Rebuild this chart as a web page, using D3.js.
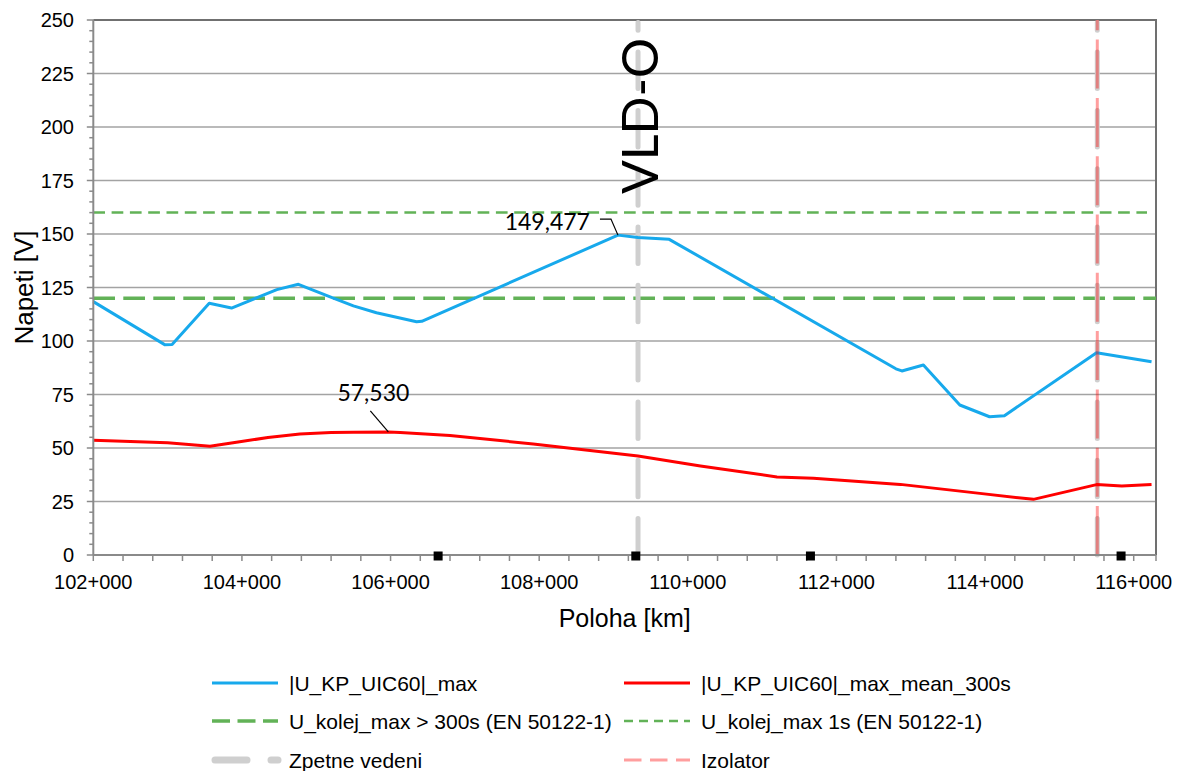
<!DOCTYPE html>
<html>
<head>
<meta charset="utf-8">
<script src="https://cdn.jsdelivr.net/npm/d3@7"></script>
<style>
  html, body { margin: 0; padding: 0; background: #fff; }
  svg { display: block; }
</style>
</head>
<body>
<svg id="chart" width="1178" height="771"></svg>
<script>
// Track position [km] and rail voltage [V]
const blueKm = [102.00, 102.96, 103.06, 103.56, 103.86, 104.47, 104.76, 105.23, 105.50, 105.81, 106.35, 106.42, 109.06, 109.33, 109.75, 112.80, 112.88, 113.17, 113.66, 114.06, 114.26, 115.50, 116.24];
const blueV  = [118.4, 98.3, 98.4, 117.6, 115.4, 124.0, 126.5, 120.0, 116.4, 113.2, 109.0, 109.2, 149.477, 148.4, 147.5, 87.0, 86.0, 88.8, 70.1, 64.6, 65.1, 94.5, 90.3];

const redKm = [102.00, 103.00, 103.57, 103.97, 104.35, 104.78, 105.20, 105.50, 105.97, 106.13, 106.80, 107.92, 109.33, 110.17, 111.20, 111.69, 112.86, 113.93, 114.65, 115.50, 115.84, 116.24];
const redV  = [53.6, 52.4, 50.8, 52.9, 54.9, 56.5, 57.2, 57.35, 57.53, 57.2, 55.8, 51.9, 46.3, 41.6, 36.5, 35.9, 33.0, 28.8, 26.0, 32.9, 32.3, 33.0];

// Limits according to EN 50122-1
const limitLong = 120;   // > 300 s
const limitShort = 160;  // 1 s

// Return conductor connections and insulated joint
const returnKm = [109.33, 115.51];
const isolatorKm = [115.51];
const markerKm = [106.64, 109.30, 111.65, 115.83];

// Annotated maxima
const peakBlue = { km: 109.06, v: 149.477, text: "149,477" };
const peakRed  = { km: 105.97, v: 57.53, text: "57,530" };

const xTicks = [102, 104, 106, 108, 110, 112, 114, 116];
const yTicks = [0, 25, 50, 75, 100, 125, 150, 175, 200, 225, 250];

const legendItems = [
  { name: "|U_KP_UIC60|_max", kind: "blue" },
  { name: "|U_KP_UIC60|_max_mean_300s", kind: "red" },
  { name: "U_kolej_max > 300s (EN 50122-1)", kind: "greenLong" },
  { name: "U_kolej_max 1s (EN 50122-1)", kind: "greenShort" },
  { name: "Zpetne vedeni", kind: "return" },
  { name: "Izolator", kind: "isolator" }
];

const C = {
  blue: "#17a9ec",
  red: "#ff0000",
  green: "#62b257",
  grid: "#a3a3a3",
  axis: "#8a8a8a",
  border: "#707070",
  ret: "#cfcfcf",
  iso: "rgba(255,0,0,0.38)"
};

const svg = d3.select("#chart");
const x = d3.scaleLinear().domain([102, 116.3]).range([93.3, 1156]);
const y = d3.scaleLinear().domain([0, 250]).range([555, 20]);
const [x0, x1] = x.range();
const [yb, yt] = y.range();

// Horizontal grid
svg.append("g").selectAll("line").data(yTicks.filter(d => d > 0 && d < 250)).join("line")
  .attr("x1", x0).attr("x2", x1).attr("y1", d => y(d)).attr("y2", d => y(d))
  .attr("stroke", C.grid).attr("stroke-width", 1.5);

// Border top and right
svg.append("path")
  .attr("d", `M${x0},${yt}H${x1}V${yb}`)
  .attr("fill", "none").attr("stroke", C.border).attr("stroke-width", 2);

// Limit lines
svg.append("line").attr("x1", x0).attr("x2", x1).attr("y1", y(limitLong)).attr("y2", y(limitLong))
  .attr("stroke", C.green).attr("stroke-width", 3.5).attr("stroke-dasharray", "21.7 8.3");
svg.append("line").attr("x1", x0).attr("x2", x1 - 9).attr("y1", y(limitShort)).attr("y2", y(limitShort))
  .attr("stroke", C.green).attr("stroke-width", 2.5).attr("stroke-dasharray", "11.7 6.6");

// Return conductor lines, drawn from the axis upward
svg.append("g").selectAll("line").data(returnKm).join("line")
  .attr("x1", d => x(d)).attr("x2", d => x(d)).attr("y1", y(0)).attr("y2", y(250) + 2.5)
  .attr("stroke", C.ret).attr("stroke-width", 5).attr("stroke-linecap", "round")
  .attr("stroke-dasharray", "36.5 21.8");

// Series
const line = d3.line().x(d => x(d[0])).y(d => y(d[1]));
svg.append("path").datum(blueKm.map((k, i) => [k, blueV[i]]))
  .attr("d", line).attr("fill", "none").attr("stroke", C.blue).attr("stroke-width", 3)
  .attr("stroke-linejoin", "round");
svg.append("path").datum(redKm.map((k, i) => [k, redV[i]]))
  .attr("d", line).attr("fill", "none").attr("stroke", C.red).attr("stroke-width", 3)
  .attr("stroke-linejoin", "round");

// Insulated joint
svg.append("g").selectAll("line").data(isolatorKm).join("line")
  .attr("x1", d => x(d)).attr("x2", d => x(d)).attr("y1", y(0)).attr("y2", y(250))
  .attr("stroke", C.iso).attr("stroke-width", 3)
  .attr("stroke-dasharray", "49 9.3");

// Axes
const xAxis = svg.append("g").attr("transform", `translate(0,${yb})`);
xAxis.append("line").attr("x1", x0).attr("x2", x1).attr("stroke", C.axis).attr("stroke-width", 2);
const xMinor = d3.range(0, 36).map(i => 102 + i * 0.4);
xAxis.selectAll("line.t").data(xMinor).join("line").attr("class", "t")
  .attr("x1", d => x(d)).attr("x2", d => x(d)).attr("y1", 0).attr("y2", 6)
  .attr("stroke", C.axis).attr("stroke-width", 1.5);
xAxis.append("line").attr("x1", x1).attr("x2", x1).attr("y1", 0).attr("y2", 6)
  .attr("stroke", C.axis).attr("stroke-width", 1.5);
xAxis.selectAll("text").data(xTicks).join("text")
  .attr("x", d => x(d)).attr("y", 34)
  .attr("text-anchor", "middle")
  .attr("font-family", "Liberation Sans, Arial, sans-serif").attr("font-size", 20)
  .text(d => d + "+000");

const yAxis = svg.append("g");
yAxis.append("line").attr("x1", x0).attr("x2", x0).attr("y1", yt).attr("y2", yb)
  .attr("stroke", C.axis).attr("stroke-width", 2);
const yMinor = d3.range(0, 51).map(i => i * 5);
yAxis.selectAll("line.t").data(yMinor).join("line").attr("class", "t")
  .attr("x1", d => x0 - (d % 25 === 0 ? 6.5 : 4)).attr("x2", x0)
  .attr("y1", d => y(d)).attr("y2", d => y(d))
  .attr("stroke", C.axis).attr("stroke-width", 1.5);
yAxis.selectAll("text").data(yTicks).join("text")
  .attr("x", 74).attr("y", d => y(d) + 7)
  .attr("text-anchor", "end")
  .attr("font-family", "Liberation Sans, Arial, sans-serif").attr("font-size", 20)
  .text(d => d);

// Axis titles
svg.append("text").attr("x", (x0 + x1) / 2).attr("y", 627)
  .attr("text-anchor", "middle")
  .attr("font-family", "Liberation Sans, Arial, sans-serif").attr("font-size", 25)
  .text("Poloha [km]");
svg.append("text").attr("transform", `translate(33,${(yt + yb) / 2}) rotate(-90)`)
  .attr("text-anchor", "middle")
  .attr("font-family", "Liberation Sans, Arial, sans-serif").attr("font-size", 26)
  .text("Napeti [V]");

// Markers on the axis
svg.append("g").selectAll("rect").data(markerKm).join("rect")
  .attr("x", d => x(d) - 4.5).attr("y", y(0) - 3.5).attr("width", 9).attr("height", 9)
  .attr("fill", "#000");

// Station label
svg.append("text")
  .attr("transform", `translate(${x(returnKm[0]) + 20},${y(250) + 96}) rotate(-90)`)
  .attr("text-anchor", "middle")
  .attr("font-family", "Lato, 'Noto Sans', sans-serif").attr("font-size", 50)
  .text("VLD-O");

// Value labels with leaders
function annotate(p, dx, dy, leader) {
  const px = x(p.km), py = y(p.v);
  svg.append("path")
    .attr("d", d3.line()(leader.map(([a, b]) => [px + a, py + b])))
    .attr("fill", "none").attr("stroke", "#000").attr("stroke-width", 1.2);
  svg.append("text").attr("x", px + dx).attr("y", py + dy)
    .attr("text-anchor", "end")
    .attr("font-family", "Lato, 'Noto Sans', sans-serif").attr("font-size", 23)
    .text(p.text);
}
annotate(peakBlue, -28, -5, [[-18, -16], [-7, -16], [0, 0]]);
annotate(peakRed, 21, -31, [[-18, -21], [0, 0]]);

// Legend
const lg = svg.append("g").attr("font-family", "Liberation Sans, Arial, sans-serif").attr("font-size", 21);
const colX = [212, 624];
const rowY = [683, 721, 760];
legendItems.forEach((it, i) => {
  const cx = colX[i % 2], cy = rowY[Math.floor(i / 2)];
  const g = lg.append("g").attr("transform", `translate(${cx},${cy})`);
  const s = g.append("line").attr("x1", 0).attr("x2", 66).attr("y1", 0).attr("y2", 0).attr("fill", "none");
  if (it.kind === "blue") s.attr("stroke", C.blue).attr("stroke-width", 3);
  if (it.kind === "red") s.attr("stroke", C.red).attr("stroke-width", 3);
  if (it.kind === "greenLong") s.attr("stroke", C.green).attr("stroke-width", 3.5).attr("stroke-dasharray", "18 7.5");
  if (it.kind === "greenShort") s.attr("stroke", C.green).attr("stroke-width", 2.5).attr("stroke-dasharray", "9 6");
  if (it.kind === "return") s.attr("x1", 3).attr("x2", 66).attr("stroke", C.ret).attr("stroke-width", 7)
    .attr("stroke-linecap", "round").attr("stroke-dasharray", "32 24");
  if (it.kind === "isolator") s.attr("stroke", C.iso).attr("stroke-width", 3).attr("stroke-dasharray", "17.5 8.5");
  g.append("text").attr("x", 77).attr("y", 7.5).text(it.name);
});
</script>
</body>
</html>
